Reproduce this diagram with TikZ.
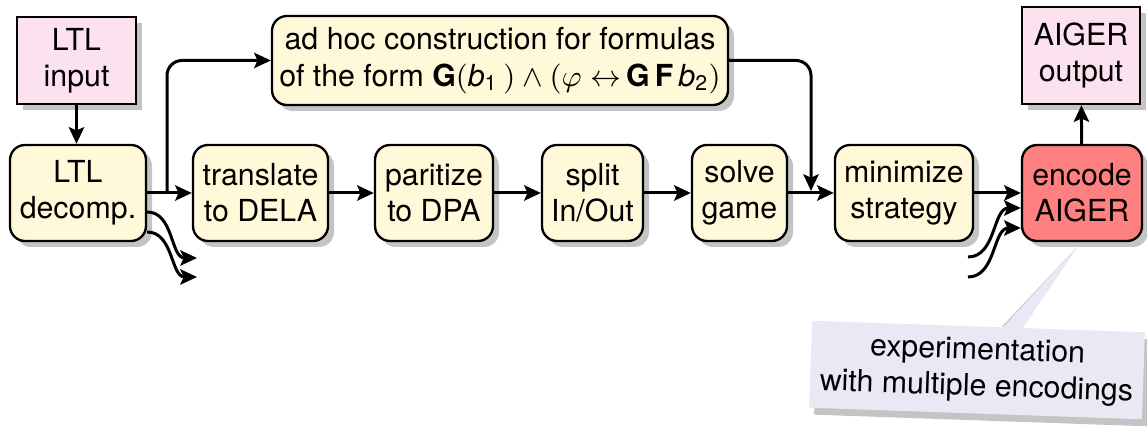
\documentclass[tikz,border=0pt]{standalone}
\usepackage{fontspec}
\setmainfont{TeX Gyre Heros}
\setsansfont{TeX Gyre Heros}
\usetikzlibrary{arrows.meta,shadows,calc,backgrounds}

\definecolor{stepfill}{HTML}{FFF9D9}
\definecolor{iofill}{HTML}{FCE1EE}
\definecolor{encfill}{HTML}{FF8080}
\definecolor{notefill}{HTML}{E9E9F5}
\definecolor{shadowgrey}{HTML}{C4C4C4}

\begin{document}
\begin{tikzpicture}[x=0.3pt,y=-0.3pt,
  font=\fontsize{9.1}{10.9}\selectfont,
  box/.style={draw, line width=0.7pt, align=center, inner sep=0pt,
    drop shadow={shadow xshift=1.8pt, shadow yshift=-1.8pt, fill=shadowgrey, opacity=1}},
  stepbox/.style={box, rounded corners=4.5pt, fill=stepfill,
    minimum height=28.8pt},
  iobox/.style={box, fill=iofill},
  notebox/.style={fill=notefill, align=center, inner sep=0pt,
    minimum width=99.9pt, minimum height=26.1pt,
    drop shadow={shadow xshift=1.5pt, shadow yshift=-2.1pt, fill=shadowgrey, opacity=1}},
  conn/.style={line width=0.9pt, -{Stealth[length=5pt,width=4.6pt,inset=1pt]}},
]
\useasboundingbox (0,0) rectangle (1147,427);

% input / output boxes
\node[iobox, minimum width=35.7pt, minimum height=26.1pt] (in) at (76.5,60.5) {LTL\\input};
\node[iobox, minimum width=35.4pt, minimum height=29.1pt] (out) at (1081,55.5) {AIGER\\output};

% pipeline steps
\node[stepbox, minimum width=40.8pt] (dec) at (78,193) {LTL\\decomp.};
\node[stepbox, minimum width=40.5pt] (tr)  at (260.5,193) {translate\\to DELA};
\node[stepbox, minimum width=35.4pt] (par) at (434,193) {paritize\\to DPA};
\node[stepbox, minimum width=30.3pt] (spl) at (592.5,193) {split\\In/Out};
\node[stepbox, minimum width=28.5pt] (sol) at (739.5,193) {solve\\game};
\node[stepbox, minimum width=41.4pt] (min) at (904,193) {minimize\\strategy};
\node[stepbox, minimum width=36pt, fill=encfill] (enc) at (1082,193) {encode\\AIGER};

\node[stepbox, minimum width=136.8pt, minimum height=26.7pt] (adhoc) at (500,60.5)
  {ad hoc construction for formulas\\
   of the form \textbf{G}$($\textit{b}\textsubscript{1}$\,)\wedge(\varphi\leftrightarrow$\,\textbf{G}\,\textbf{F}\,\textit{b}\textsubscript{2}$)$};

% main flow
\draw[conn] (in.south) -- (in.south |- dec.north);
\draw[conn] (dec) -- (tr);
\draw[conn] (tr) -- (par);
\draw[conn] (par) -- (spl);
\draw[conn] (spl) -- (sol);
\draw[conn] (sol) -- (min);
\draw[conn] (min) -- (enc);
\draw[conn] (enc) -- (out);

% shortcut through the ad hoc construction
\coordinate (br) at (167,193);
\coordinate (mrg) at (811,191);
\draw[conn, rounded corners=4.5pt] (br) |- (adhoc.west);
\draw[conn, rounded corners=4.5pt] (adhoc.east) -| (mrg);

% further outputs of the decomposition
\coordinate (d1) at (197,258);
\coordinate (d2) at (197,277);
\draw[conn] ($(dec.east)+(0,19)$) to[out=0,in=180] (d1);
\draw[conn] ($(dec.east)+(0,39)$) to[out=0,in=180] (d2);

% further inputs of the encoder
\coordinate (e1) at (968,257);
\coordinate (e2) at (968,277);
\draw[conn] (e1) to[out=0,in=180] ($(enc.west)+(0,15)$);
\draw[conn] (e2) to[out=0,in=180] ($(enc.west)+(0,35)$);

% note
\node[notebox, rotate=-2] (note) at (977,370) {experimentation\\with multiple encodings};
\coordinate (tip) at (1078,246);
\coordinate (p1) at ($(note.north west)!0.57!(note.north east)$);
\coordinate (p2) at ($(note.north west)!0.63!(note.north east)$);
\begin{scope}[on background layer]
  \fill[shadowgrey, shift={(8,8)}] (p1) -- (tip) -- (p2) -- cycle;
\end{scope}
\fill[notefill] ($(p1)+(0,2)$) -- (tip) -- ($(p2)+(0,2)$) -- cycle;
\end{tikzpicture}
\end{document}
